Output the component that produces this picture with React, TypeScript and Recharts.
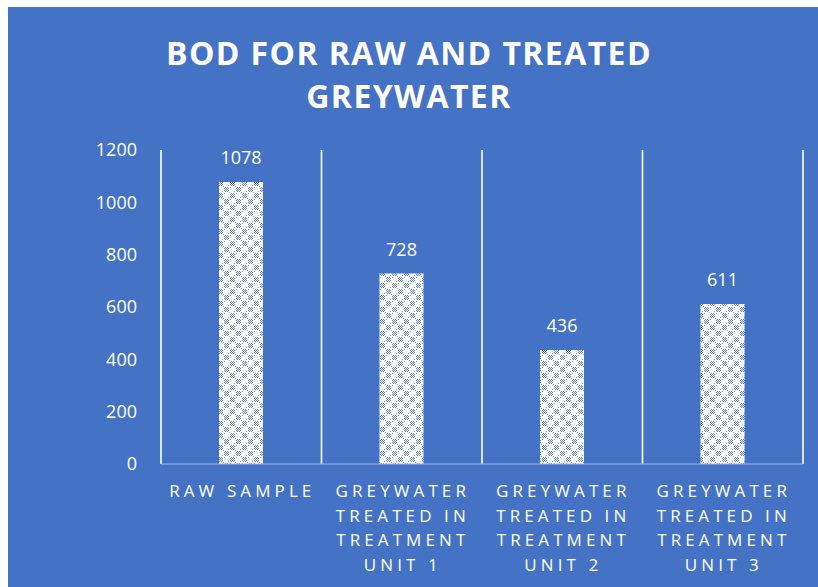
import React from "react";
import { BarChart, Bar, XAxis, YAxis, CartesianGrid, LabelList } from "recharts";

// BOD values (mg/L) for the raw sample and each treatment unit
const categories = [
  "RAW SAMPLE",
  "GREYWATER\nTREATED IN\nTREATMENT\nUNIT 1",
  "GREYWATER\nTREATED IN\nTREATMENT\nUNIT 2",
  "GREYWATER\nTREATED IN\nTREATMENT\nUNIT 3",
];
const bodValues = [1078, 728, 436, 611];
const yTicks = [0, 200, 400, 600, 800, 1000, 1200];
const titleLines = ["BOD FOR RAW AND TREATED", "GREYWATER"];

const data = categories.map((name, i) => ({ name, bod: bodValues[i] }));

const BG = "#4472C4";
const FONT = "'Open Sans', 'DejaVu Sans', sans-serif";

// checkered "#" clusters laid out on a diagonal for the bar fill
const cluster = [
  [1, 0], [3, 0], [0, 1], [2, 1], [4, 1], [1, 2], [3, 2],
  [0, 3], [2, 3], [4, 3], [1, 4], [3, 4],
];
const diag = [[5, 5], [11, 11], [6, 0], [0, 6], [10, 4], [4, 10]];

const CategoryTick = (props: any) => {
  const { x, y, payload } = props;
  const lines = String(payload.value).split("\n");
  const ls = 4.1;
  return (
    <text
      x={x}
      y={y}
      fill="#ffffff"
      fontFamily={FONT}
      fontSize={17}
      textAnchor="middle"
      style={{ letterSpacing: `${ls}px` }}
    >
      {lines.map((ln, i) => (
        <tspan key={i} x={x + ls / 2 - 1} y={y + 33 + i * 24.5}>
          {ln}
        </tspan>
      ))}
    </text>
  );
};

export default function App() {
  return (
    <div
      style={{
        position: "fixed",
        left: 8,
        top: 7,
        width: 810,
        height: 580,
        background: BG,
        fontFamily: FONT,
      }}
    >
      <div
        style={{
          position: "absolute",
          left: 0,
          top: 24,
          width: 802,
          textAlign: "center",
          color: "#ffffff",
          fontWeight: 700,
          fontSize: 32,
          lineHeight: "43px",
          letterSpacing: "1.4px",
        }}
      >
        {titleLines.map((t, i) => (
          <div key={i}>{t}</div>
        ))}
      </div>
      <BarChart
        width={810}
        height={580}
        data={data}
        margin={{ top: 143, right: 15, bottom: 0, left: 0 }}
        barCategoryGap={0}
      >
        <defs>
          <pattern id="dots" width="12" height="12" patternUnits="userSpaceOnUse">
            <rect width="12" height="12" fill="#ffffff" />
            {cluster.map(([cx, cy], i) => (
              <rect key={`a${i}`} x={cx} y={cy} width="1" height="1" fill="#5a82cc" />
            ))}
            {cluster.map(([cx, cy], i) => (
              <rect key={`b${i}`} x={(cx + 6) % 12} y={(cy + 6) % 12} width="1" height="1" fill="#5a82cc" />
            ))}
            {diag.map(([cx, cy], i) => (
              <rect key={`c${i}`} x={cx} y={cy} width="1" height="1" fill="#8aa7dd" />
            ))}
          </pattern>
        </defs>
        <CartesianGrid
          horizontal={false}
          vertical
          stroke="#ffffff"
          strokeWidth={1.6}
          verticalCoordinatesGenerator={({ offset }: any) =>
            categories.map((_, i) => offset.left + (i * offset.width) / categories.length)
              .concat([offset.left + offset.width])
          }
        />
        <XAxis
          dataKey="name"
          height={123}
          interval={0}
          tickLine={false}
          tickSize={0}
          tickMargin={0}
          axisLine={{ stroke: "#9db3e0", strokeWidth: 1 }}
          tick={<CategoryTick />}
        />
        <YAxis
          width={153}
          domain={[0, 1200]}
          ticks={yTicks}
          interval={0}
          axisLine={false}
          tickLine={false}
          tickSize={0}
          tickMargin={24}
          tick={{ fill: "#ffffff", fontSize: 18, fontFamily: FONT }}
        />
        <Bar dataKey="bod" fill="url(#dots)" barSize={44} isAnimationActive={false}>
          <LabelList
            dataKey="bod"
            position="top"
            offset={18}
            fill="#ffffff"
            fontSize={18}
            fontFamily={FONT}
          />
        </Bar>
      </BarChart>
    </div>
  );
}
